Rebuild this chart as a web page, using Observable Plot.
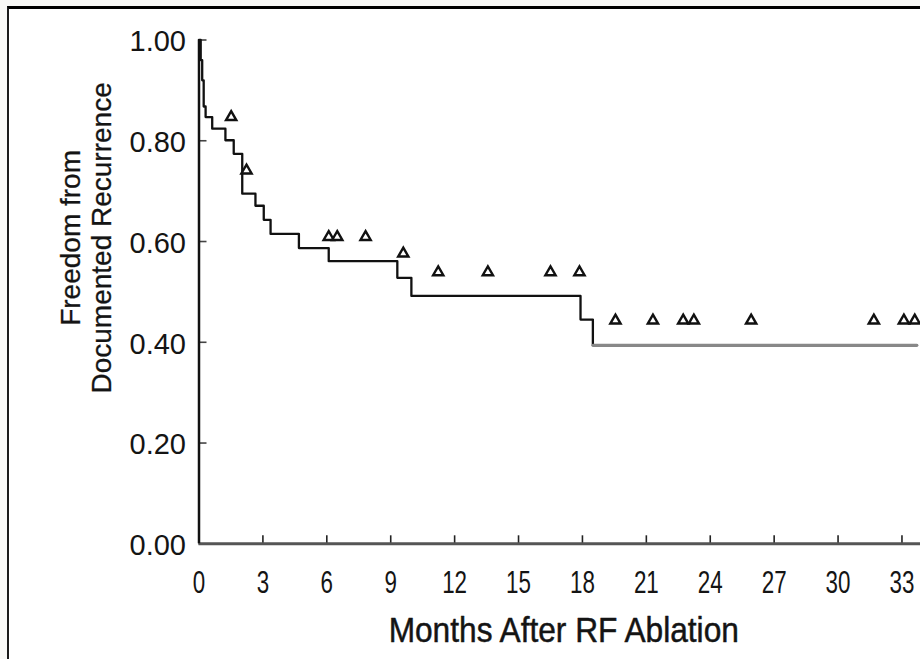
<!DOCTYPE html>
<html><head><meta charset="utf-8">
<script src="https://cdn.jsdelivr.net/npm/d3@7"></script>
<script src="https://cdn.jsdelivr.net/npm/@observablehq/plot@0.6"></script>
<style>
html,body{margin:0;padding:0;background:#f8f8f6;}
#wrap{position:relative;width:920px;height:659px;overflow:hidden;background:#f8f8f6;}
#paper{position:absolute;left:7px;top:6px;width:960px;height:700px;background:#fff;border-top:3px solid #000;border-left:2px solid #1a1a1a;}
#chart{position:absolute;left:0;top:0;}
</style></head><body>
<div id="wrap"><div id="paper"></div><div id="chart"></div></div>
<script>
// Kaplan-Meier steps: month of each drop and survival after it
const eventMonths = [0, 0.08, 0.15, 0.22, 0.31, 0.62, 1.24, 1.63, 2.03, 2.65, 3.04, 3.36, 4.69, 6.09, 9.31, 9.97, 17.91, 18.49, 33.7];
const survival    = [1.0, 0.96, 0.92, 0.868, 0.847, 0.824, 0.801, 0.774, 0.695, 0.671, 0.643, 0.615, 0.587, 0.561, 0.528, 0.492, 0.445, 0.394, 0.394];
// Censored observations (triangles) as drawn
const censorMonths = [1.51, 2.23, 6.09, 6.49, 7.82, 9.59, 11.23, 13.56, 16.50, 17.86, 19.55, 21.31, 22.73, 23.23, 25.92, 31.68, 33.09, 33.6];
const censorLevel  = [0.847, 0.741, 0.609, 0.609, 0.609, 0.576, 0.539, 0.539, 0.539, 0.539, 0.443, 0.443, 0.443, 0.443, 0.443, 0.443, 0.443, 0.443];
const xTicks = [0, 3, 6, 9, 12, 15, 18, 21, 24, 27, 30, 33];
const yTicks = [0, 0.2, 0.4, 0.6, 0.8, 1.0];
const xTitle = "Months After RF Ablation";
const yTitle = "Freedom from\nDocumented Recurrence";

const curve = eventMonths.map((t, i) => ({t, s: survival[i]}));
const tail = curve.slice(-2);
const censored = censorMonths.map((t, i) => ({t, s: censorLevel[i]}));

const font = "'Liberation Sans', Arial, Helvetica, sans-serif";
const ink = "#141414";

const chart = Plot.plot({
  width: 920,
  height: 659,
  marginLeft: 198.5,
  marginRight: 0,
  marginTop: 39.5,
  marginBottom: 115.7,
  style: {background: "transparent", fontFamily: font, color: ink, overflow: "visible"},
  x: {domain: [0, 33.87]},
  y: {domain: [0, 1]},
  marks: [
    // inward tick marks
    Plot.axisX({ticks: xTicks, tickSize: 8, dy: -8, fill: "none", label: null, stroke: "#222", strokeWidth: 1.6}),
    Plot.axisY({ticks: yTicks, tickSize: 8, dx: 8, fill: "none", label: null, stroke: "#444", strokeWidth: 1.6}),
    // tick labels
    Plot.axisX({ticks: xTicks, tickSize: 0, tickPadding: 26, label: null, fontSize: 32, fill: ink, stroke: ink, strokeWidth: 0.7, tickFormat: d => String(d)}),
    Plot.axisY({ticks: yTicks, tickSize: 0, tickPadding: 13, dy: 2, label: null, fontSize: 29, fill: ink, stroke: ink, strokeWidth: 0.4, tickFormat: d3.format(".2f")}),
    // axis lines
    Plot.ruleY([0], {stroke: "#555", strokeWidth: 3}),
    Plot.ruleX([0], {stroke: "#111", strokeWidth: 2.5}),
    // survival curve
    Plot.line(curve, {x: "t", y: "s", curve: "step-after", stroke: "#111", strokeWidth: 2.3}),
    Plot.line(tail, {x: "t", y: "s", stroke: "#888", strokeWidth: 3}),
    // censored marks
    Plot.dot(censored, {x: "t", y: "s", symbol: "triangle", r: 3.8, stroke: "#111", strokeWidth: 2.4, fill: "white"}),
    // titles
    Plot.text([xTitle], {frameAnchor: "bottom", dx: 4, dy: 87, fontSize: 36, fill: ink, stroke: ink, strokeWidth: 0.5, lineAnchor: "middle", textAnchor: "middle"}),
    Plot.text([yTitle], {frameAnchor: "left", dx: -113, dy: -54, rotate: -90, fontSize: 28, lineHeight: 1.1, fill: ink, stroke: ink, strokeWidth: 0.3, lineAnchor: "middle", textAnchor: "middle"})
  ]
});
document.getElementById("chart").appendChild(chart);

// condense the x-axis texts horizontally (narrow typeface in the original),
// scaling each text about its own centre in its local coordinates
const tickStrings = xTicks.map(String);
chart.querySelectorAll("text").forEach(t => {
  const s = t.textContent;
  let k = null;
  if (s === xTitle) k = 0.88;
  else if (tickStrings.includes(s)) k = 0.7;
  if (k == null) return;
  const b = t.getBBox();
  const cx = b.x + b.width / 2;
  const tr = t.getAttribute("transform") || "";
  t.setAttribute("transform", `${tr} translate(${cx},0) scale(${k},1) translate(${-cx},0)`);
});
</script>
</body></html>
